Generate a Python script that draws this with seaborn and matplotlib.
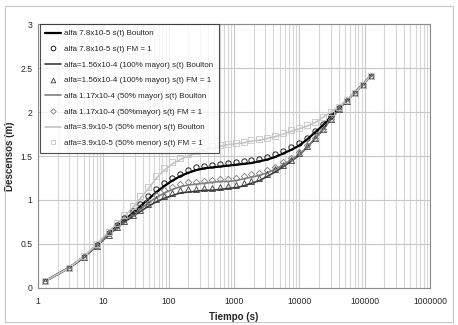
import numpy as np
import pandas as pd
import matplotlib
matplotlib.use('Agg')
import matplotlib.pyplot as plt
from matplotlib.lines import Line2D
import seaborn as sns

#%% data
tiempo = [1.3, 3, 5, 8, 12, 16, 21, 28, 37, 49, 65, 86, 114, 150, 200, 265, 350, 460, 610, 800,
          1060, 1400, 1850, 2450, 3250, 4300, 5700, 7500, 10000, 13200, 17500, 23000, 30500,
          40000, 53000, 70000, 93000, 123000]

# alfa 7.8x10-5
s_78_boulton = [0.08, 0.23, 0.35, 0.49, 0.62, 0.70, 0.77, 0.85, 0.93, 1.01, 1.09, 1.16, 1.22, 1.27, 1.31,
                1.34, 1.36, 1.37, 1.38, 1.39, 1.40, 1.41, 1.42, 1.44, 1.46, 1.49, 1.53, 1.57, 1.62,
                1.69, 1.77, 1.85, 1.95, 2.04, 2.13, 2.22, 2.31, 2.41]
s_78_fm1 = [0.08, 0.23, 0.35, 0.49, 0.63, 0.71, 0.79, 0.87, 0.96, 1.04, 1.12, 1.19, 1.25, 1.30, 1.34,
            1.37, 1.39, 1.40, 1.41, 1.42, 1.43, 1.44, 1.45, 1.47, 1.49, 1.52, 1.56, 1.60, 1.65,
            1.71, 1.78, 1.86, 1.95, 2.04, 2.13, 2.22, 2.31, 2.41]
# alfa 1.56x10-4 (100% mayor)
s_156_boulton = [0.08, 0.23, 0.35, 0.48, 0.60, 0.68, 0.75, 0.81, 0.87, 0.93, 0.98, 1.02, 1.05, 1.08, 1.09,
                 1.10, 1.11, 1.11, 1.12, 1.13, 1.14, 1.16, 1.19, 1.22, 1.27, 1.32, 1.38, 1.44, 1.51,
                 1.60, 1.70, 1.80, 1.92, 2.03, 2.13, 2.22, 2.31, 2.41]
s_156_fm1 = [0.08, 0.23, 0.35, 0.48, 0.60, 0.69, 0.76, 0.83, 0.89, 0.95, 1.01, 1.05, 1.08, 1.11, 1.12,
             1.13, 1.14, 1.14, 1.15, 1.16, 1.17, 1.19, 1.22, 1.25, 1.30, 1.35, 1.40, 1.46, 1.53,
             1.61, 1.71, 1.81, 1.92, 2.03, 2.13, 2.22, 2.31, 2.41]
# alfa 1.17x10-4 (50% mayor)
s_117_boulton = [0.08, 0.23, 0.35, 0.48, 0.61, 0.69, 0.76, 0.83, 0.90, 0.97, 1.03, 1.08, 1.12, 1.15, 1.17,
                 1.18, 1.19, 1.20, 1.21, 1.21, 1.22, 1.24, 1.26, 1.28, 1.31, 1.35, 1.40, 1.46, 1.52,
                 1.60, 1.70, 1.80, 1.92, 2.03, 2.13, 2.22, 2.31, 2.41]
s_117_fm1 = [0.08, 0.23, 0.35, 0.48, 0.62, 0.70, 0.77, 0.85, 0.92, 0.99, 1.06, 1.11, 1.15, 1.18, 1.20,
             1.21, 1.22, 1.23, 1.24, 1.24, 1.25, 1.27, 1.29, 1.31, 1.34, 1.38, 1.43, 1.48, 1.54,
             1.62, 1.71, 1.81, 1.92, 2.03, 2.13, 2.22, 2.31, 2.41]
# alfa 3.9x10-5 (50% menor)
s_39_boulton = [0.08, 0.23, 0.36, 0.50, 0.64, 0.73, 0.81, 0.91, 1.02, 1.13, 1.25, 1.34, 1.41, 1.46, 1.50,
                1.54, 1.57, 1.59, 1.61, 1.63, 1.64, 1.65, 1.67, 1.68, 1.70, 1.72, 1.75, 1.78, 1.81,
                1.84, 1.88, 1.94, 2.00, 2.06, 2.14, 2.22, 2.31, 2.41]
s_39_fm1 = [0.08, 0.23, 0.36, 0.50, 0.64, 0.74, 0.83, 0.93, 1.04, 1.15, 1.27, 1.36, 1.43, 1.48, 1.52,
            1.56, 1.59, 1.61, 1.63, 1.64, 1.65, 1.66, 1.68, 1.69, 1.71, 1.73, 1.76, 1.79, 1.82,
            1.85, 1.89, 1.94, 2.00, 2.06, 2.14, 2.22, 2.31, 2.41]

etiquetas = ['alfa 7.8x10-5 s(t) Boulton',
             'alfa 7.8x10-5 s(t) FM = 1',
             'alfa=1.56x10-4 (100% mayor) s(t) Boulton',
             'alfa=1.56x10-4 (100% mayor) s(t) FM = 1',
             'alfa 1.17x10-4 (50% mayor) s(t) Boulton',
             'alfa 1.17x10-4 (50%mayor) s(t) FM = 1',
             'alfa=3.9x10-5 (50% menor) s(t) Boulton',
             'alfa=3.9x10-5 (50% menor) s(t) FM = 1']

#%% plot
sns.set_style('white')
plt.rcParams['font.family'] = ['Liberation Sans', 'DejaVu Sans']

fig = plt.figure(figsize=(4.58, 3.25), dpi=100)
ax = fig.add_axes([0.083, 0.114, 0.856, 0.812])

series = [(s_78_boulton, s_78_fm1, '#000000', 1.6, 'o'),
          (s_156_boulton, s_156_fm1, '#3c3c3c', 1.2, '^'),
          (s_117_boulton, s_117_fm1, '#7f7f7f', 1.2, 'D'),
          (s_39_boulton, s_39_fm1, '#c4c4c4', 1.2, 's')]

handles = []
for i, (sb, sf, c, lw, mk) in enumerate(series):
    df = pd.DataFrame({'t': tiempo, 'sb': sb, 'sf': sf})
    sns.lineplot(data=df, x='t', y='sb', ax=ax, color=c, lw=lw, zorder=3, legend=False)
    ms = 3.2 if mk == 'D' else 3.8
    sns.lineplot(data=df, x='t', y='sf', ax=ax, linestyle='none', marker=mk, markersize=ms,
                 markerfacecolor='none', markeredgecolor=c, markeredgewidth=0.6,
                 color=c, zorder=4, legend=False)
    handles.append(Line2D([], [], color=c, lw=lw))
    handles.append(Line2D([], [], linestyle='none', marker=mk, markersize=ms - 0.4,
                          markerfacecolor='none', markeredgecolor=c, markeredgewidth=0.6))

ax.set_xscale('log')
ax.set_xlim(1, 1000000)
ax.set_ylim(0, 3)
ax.set_yticks(np.arange(0, 3.01, 0.5))
ax.set_yticklabels(['0', '0.5', '1', '1.5', '2', '2.5', '3'])
ax.set_xticks([1, 10, 100, 1000, 10000, 100000, 1000000])
ax.set_xticklabels(['1', '10', '100', '1000', '10000', '100000', '1000000'])
ax.grid(True, which='major', color='#c8c8c8', lw=0.8)
ax.grid(True, which='minor', axis='x', color='#d6d6d6', lw=0.8)
ax.tick_params(axis='x', which='both', length=0, labelsize=6.2, pad=6.5)
ax.tick_params(axis='y', which='both', length=0, labelsize=6.2, pad=4)
for sp in ax.spines.values():
    sp.set_color('#8c8c8c')
    sp.set_linewidth(0.8)

ax.set_xlabel('Tiempo (s)', fontsize=7, fontweight='bold', labelpad=4)
ax.set_ylabel('Descensos (m)', fontsize=7, fontweight='bold', labelpad=4)

leg = ax.legend(handles, etiquetas, loc='upper left', bbox_to_anchor=(0.004, 1.0), fontsize=5.8,
                frameon=True, fancybox=False, edgecolor='#222222', labelspacing=1.0,
                handlelength=2.0, handletextpad=0.3, borderpad=0.7, borderaxespad=0.0)
leg.get_frame().set_linewidth(0.8)

# outer chart border
fig.patches.append(plt.Rectangle((0.011, 0.008), 0.978, 0.975, transform=fig.transFigure,
                                 fill=False, edgecolor='#c8c8c8', lw=0.8))

fig.savefig('out.png', dpi=100)
